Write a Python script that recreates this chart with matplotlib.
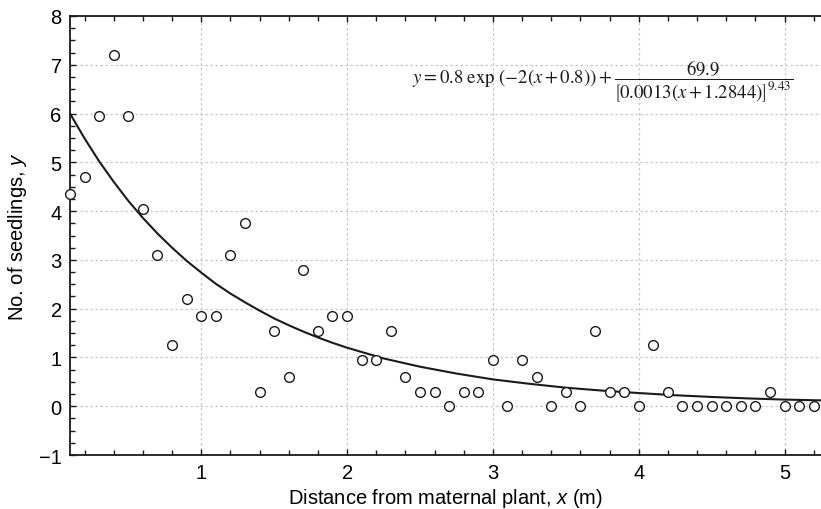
import matplotlib
matplotlib.use("Agg")
import matplotlib.pyplot as plt
from matplotlib.ticker import MultipleLocator

plt.rcParams['font.family'] = ['Liberation Sans', 'DejaVu Sans']
plt.rcParams['mathtext.fontset'] = 'custom'
plt.rcParams['mathtext.rm'] = 'Liberation Sans'
plt.rcParams['mathtext.it'] = 'Liberation Sans:italic'

# observed data
dist_x = [0.1, 0.2, 0.3, 0.4, 0.5, 0.6, 0.7, 0.8, 0.9, 1.0,
          1.1, 1.2, 1.3, 1.4, 1.5, 1.6, 1.7, 1.8, 1.9, 2.0,
          2.1, 2.2, 2.3, 2.4, 2.5, 2.6, 2.7, 2.8, 2.9, 3.0,
          3.1, 3.2, 3.3, 3.4, 3.5, 3.6, 3.7, 3.8, 3.9, 4.0,
          4.1, 4.2, 4.3, 4.4, 4.5, 4.6, 4.7, 4.8, 4.9, 5.0,
          5.1, 5.2]
seedlings_y = [4.35, 4.7, 5.95, 7.2, 5.95, 4.05, 3.1, 1.25, 2.2, 1.85,
               1.85, 3.1, 3.75, 0.3, 1.55, 0.6, 2.8, 1.55, 1.85, 1.85,
               0.95, 0.95, 1.55, 0.6, 0.3, 0.3, 0.0, 0.3, 0.3, 0.95,
               0.0, 0.95, 0.6, 0.0, 0.3, 0.0, 1.55, 0.3, 0.3, 0.0,
               1.25, 0.3, 0.0, 0.0, 0.0, 0.0, 0.0, 0.0, 0.3, 0.0,
               0.0, 0.0]

# fitted curve
curve_x = [0.1, 0.2, 0.3, 0.4, 0.5, 0.6, 0.7, 0.8, 0.9, 1.0,
           1.1, 1.2, 1.3, 1.4, 1.5, 1.6, 1.7, 1.8, 1.9, 2.0,
           2.25, 2.5, 2.75, 3.0, 3.25, 3.5, 3.75, 4.0, 4.25, 4.5,
           4.75, 5.0, 5.25]
curve_y = [6.0, 5.49, 5.02, 4.60, 4.21, 3.86, 3.54, 3.25, 2.98, 2.74,
           2.51, 2.31, 2.13, 1.96, 1.80, 1.66, 1.53, 1.41, 1.30, 1.20,
           0.98, 0.81, 0.67, 0.55, 0.46, 0.38, 0.32, 0.27, 0.225, 0.19,
           0.16, 0.136, 0.12]

x_ticks = [1, 2, 3, 4, 5]
y_ticks = [-1, 0, 1, 2, 3, 4, 5, 6, 7, 8]

fig = plt.figure(figsize=(8.21, 5.10), dpi=100)
ax = fig.add_axes([70/821, 1-456/510, 1-70/821, (456-17)/510])

ax.plot(curve_x, curve_y, color='#1a1a1a', lw=1.5, zorder=3)
ax.plot(dist_x, seedlings_y, linestyle='none', marker='o', ms=7,
        mfc='white', mec='#1a1a1a', mew=1.0, zorder=4, clip_on=False)

ax.set_xlim(0.1, 5.25)
ax.set_ylim(-1, 8)
ax.set_xticks(x_ticks)
ax.set_yticks(y_ticks)
ax.xaxis.set_minor_locator(MultipleLocator(0.2))
ax.yaxis.set_minor_locator(MultipleLocator(0.25))
ax.tick_params(which='both', direction='in', top=True, right=False,
               labelsize=14.5, color='#1a1a1a')
ax.tick_params(which='major', length=4, width=1)
ax.tick_params(which='minor', length=3.5, width=1)
ax.tick_params(axis='x', pad=6)
ax.tick_params(axis='y', pad=6)
ax.spines['right'].set_visible(False)
for s in ['left', 'top', 'bottom']:
    ax.spines[s].set_linewidth(1.3)
    ax.spines[s].set_color('#1a1a1a')

ax.grid(True, which='major', color='#c8c8c8', lw=0.9, ls=(0, (2, 2)))
ax.set_axisbelow(True)

ax.set_xlabel(r'Distance from maternal plant, $\mathit{x}$ (m)', fontsize=14.5, labelpad=3)
ax.set_ylabel(r'No. of seedlings, $\mathit{y}$', fontsize=14.5, labelpad=7)

eq = (r'$y = 0.8\ \mathrm{exp}\ \left(-2\left(x + 0.8\right)\right) + '
      r'\dfrac{69.9}{\left[0.0013\left(x + 1.2844\right)\right]^{9.43}}$')
ax.text(5.06, 6.68, eq, ha='right', va='center', fontsize=13.5,
        math_fontfamily='stix', color='#1a1a1a')

fig.savefig('out.png', dpi=100)
